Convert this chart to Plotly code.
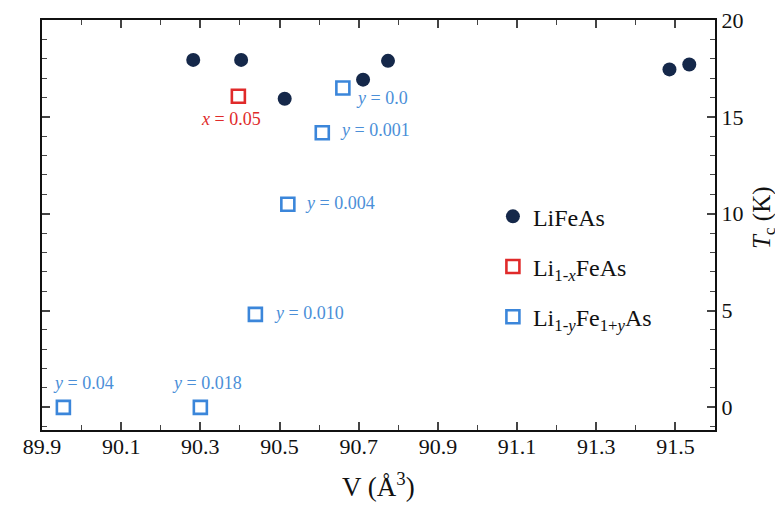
import plotly.graph_objects as go

# LiFeAs (filled circles)
lifeas_v = [90.282, 90.403, 90.513, 90.711, 90.774, 91.485, 91.535]
lifeas_tc = [17.94, 17.94, 15.93, 16.92, 17.89, 17.45, 17.70]

# Li1-xFeAs (red squares)
li1x_v = [90.396]
li1x_tc = [16.06]
li1x_labels = ["<i>x</i> = 0.05"]

# Li1-yFe1+yAs (blue squares)
li1y_v = [90.660, 90.608, 90.521, 90.439, 90.300, 89.954]
li1y_tc = [16.49, 14.18, 10.49, 4.80, 0.0, 0.0]
li1y_labels = ["<i>y</i> = 0.0", "<i>y</i> = 0.001", "<i>y</i> = 0.004",
               "<i>y</i> = 0.010", "<i>y</i> = 0.018", "<i>y</i> = 0.04"]

x_ticks = [89.9, 90.1, 90.3, 90.5, 90.7, 90.9, 91.1, 91.3, 91.5]
y_ticks = [0, 5, 10, 15, 20]

NAVY = "#15284a"
RED = "#e02a2a"
BLUE = "#3b86da"
LBLUE = "#4b8fd8"
FONT = "Liberation Serif"

fig = go.Figure()
fig.add_trace(go.Scatter(x=lifeas_v, y=lifeas_tc, mode="markers", name="LiFeAs",
                         legendgroup="a",
                         marker=dict(symbol="circle", size=14, color=NAVY,
                                     line=dict(width=0))))
fig.add_trace(go.Scatter(x=li1x_v, y=li1x_tc, mode="markers",
                         name="Li<sub>1-<i>x</i></sub>FeAs", legendgroup="b",
                         marker=dict(symbol="square-open", size=13, color=RED,
                                     line=dict(width=2.6, color=RED))))
fig.add_trace(go.Scatter(x=li1y_v, y=li1y_tc, mode="markers",
                         name="Li<sub>1-<i>y</i></sub>Fe<sub>1+<i>y</i></sub>As",
                         legendgroup="c",
                         marker=dict(symbol="square-open", size=13, color=BLUE,
                                     line=dict(width=2.6, color=BLUE))))

# point labels: (text, x, y, xanchor)
label_pos = [
    (li1x_labels[0], 90.378, 14.9, "center", RED),
    (li1y_labels[0], 90.690, 15.97, "left", LBLUE),
    (li1y_labels[1], 90.650, 14.34, "left", LBLUE),
    (li1y_labels[2], 90.563, 10.56, "left", LBLUE),
    (li1y_labels[3], 90.484, 4.85, "left", LBLUE),
    (li1y_labels[4], 90.317, 1.28, "center", LBLUE),
    (li1y_labels[5], 90.005, 1.28, "center", LBLUE),
]
for t, x, y, xa, c in label_pos:
    fig.add_annotation(x=x, y=y, text=t, showarrow=False, xanchor=xa,
                       yanchor="middle", borderpad=0,
                       font=dict(family=FONT, size=18, color=c))

# axis titles
fig.add_annotation(xref="paper", yref="paper", x=0.5, y=-0.135, yanchor="middle",
                   text="V (Å<sup>3</sup>)", showarrow=False,
                   font=dict(family=FONT, size=27, color="#111"))
fig.add_annotation(xref="paper", yref="paper", x=1.072, y=0.518, xanchor="center",
                   yanchor="middle",
                   text="<i>T</i><sub>c</sub> (K)", showarrow=False, textangle=-90,
                   font=dict(family=FONT, size=25, color="#111"))

fig.update_layout(
    width=783, height=511,
    margin=dict(l=34, r=76, t=12, b=89, autoexpand=False),
    paper_bgcolor="white", plot_bgcolor="white",
    font=dict(family=FONT, size=22, color="#111"),
    showlegend=True,
    legend=dict(x=0.67, y=0.575, xanchor="left", yanchor="top",
                bgcolor="rgba(0,0,0,0)", tracegroupgap=16,
                font=dict(family=FONT, size=24), itemwidth=30),
)
fig.update_xaxes(range=[89.9, 91.6], tickvals=x_ticks,
                 ticktext=[f"{v:.1f}" for v in x_ticks], automargin=False,
                 ticks="inside", ticklen=8, tickwidth=1.5, mirror="ticks",
                 ticklabelstandoff=-4, ticklabeloverflow="allow",
                 showline=True, linecolor="#111", linewidth=2, showgrid=False,
                 zeroline=False,
                 minor=dict(dtick=0.1, tick0=89.9, ticks="inside", ticklen=5,
                            tickwidth=1.2, showgrid=False))
fig.update_yaxes(range=[-1.17, 20.0], tickvals=y_ticks, side="right",
                 automargin=False, ticklabeloverflow="allow",
                 ticks="inside", ticklen=8, tickwidth=1.5, mirror="ticks",
                 showline=True, linecolor="#111", linewidth=2, showgrid=False,
                 zeroline=False,
                 minor=dict(dtick=1, tick0=0, ticks="inside", ticklen=5,
                            tickwidth=1.2, showgrid=False))

fig.write_html("out.html")
